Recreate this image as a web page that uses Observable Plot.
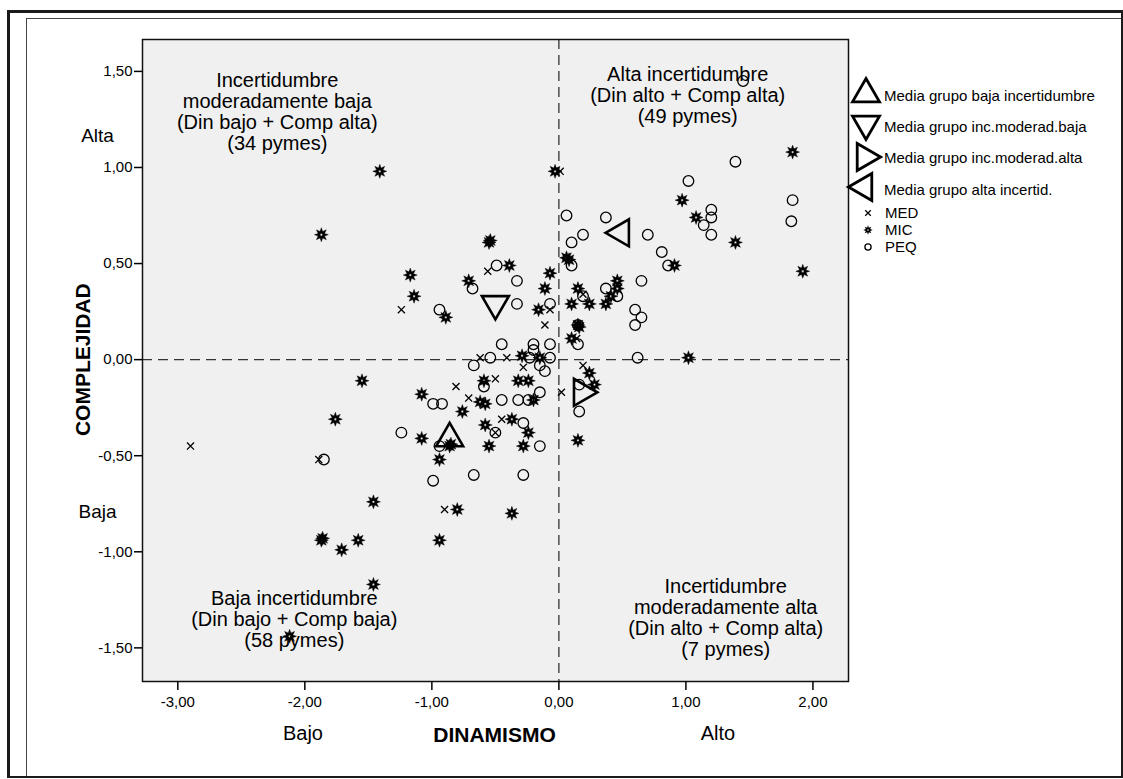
<!DOCTYPE html>
<html><head><meta charset="utf-8">
<script src="https://cdn.jsdelivr.net/npm/d3@7"></script>
<script src="https://cdn.jsdelivr.net/npm/@observablehq/plot@0.6"></script>
<style>
body{margin:0;background:#fff;font-family:"Liberation Sans",Arial,sans-serif;}
#wrap{position:relative;width:1123px;height:779px;overflow:hidden;background:#fff;}
#outer{position:absolute;left:7px;top:10px;width:1116px;height:768px;box-sizing:border-box;border:3px solid #1a1a1a;border-right-width:2px;border-bottom-width:2px;}
#inner{position:absolute;left:26px;top:18px;right:2px;bottom:3px;border-left:1px solid #444;border-top:1px solid #444;}
#chart{position:absolute;left:0;top:0;}
#legend{position:absolute;left:0;top:0;}
</style></head>
<body>
<div id="wrap"><div id="outer"></div><div id="inner"></div><div id="chart"></div><svg id="legend" width="1123" height="779"></svg></div>
<script>
// ---- data (DINAMISMO, COMPLEJIDAD) ----
const MED = [[-2.90,-0.45],[-1.89,-0.52],[-1.24,0.26],[-0.56,0.46],[-0.62,0.01],[-0.41,0.01],[-0.07,0.26],[-0.11,0.18],[0.19,0.34],[0.01,0.98],[-0.28,-0.04],[-0.50,-0.10],[-0.81,-0.14],[-0.71,-0.20],[-0.45,-0.31],[-0.50,-0.38],[-0.90,-0.78],[0.02,-0.17],[0.19,-0.03],[0.14,0.11]];
const MIC = [[-1.41,0.98],[-1.87,0.65],[-0.55,0.61],[-0.54,0.62],[-0.39,0.49],[-1.17,0.44],[-0.71,0.41],[-1.14,0.33],[-0.89,0.22],[-0.16,0.26],[-0.07,0.45],[-0.11,0.37],[-0.29,0.02],[-0.15,0.01],[-0.03,0.98],
 [0.06,0.53],[0.08,0.52],[0.15,0.37],[0.10,0.29],[0.24,0.29],[0.37,0.29],[0.41,0.33],[0.46,0.41],[0.46,0.37],[0.15,0.18],[0.16,0.17],[0.10,0.11],[0.91,0.49],[0.97,0.83],[1.08,0.74],[1.39,0.61],[1.84,1.08],[1.92,0.46],[1.02,0.01],
 [-1.55,-0.11],[-1.76,-0.31],[-1.08,-0.18],[-0.76,-0.27],[-1.08,-0.41],[-0.86,-0.45],[-0.85,-0.44],[-0.94,-0.52],[-0.80,-0.78],[-0.37,-0.80],[-1.46,-0.74],[-1.87,-0.94],[-1.86,-0.93],[-1.71,-0.99],[-1.58,-0.94],[-0.94,-0.94],[-1.46,-1.17],[-2.12,-1.44],[-0.59,-0.11],[-0.32,-0.11],[-0.24,-0.11],[-0.62,-0.22],[-0.58,-0.23],[-0.20,-0.21],[-0.37,-0.31],[-0.58,-0.34],[-0.24,-0.38],[-0.55,-0.45],[-0.28,-0.45],
 [0.24,-0.07],[0.28,-0.13],[0.15,-0.42]];
const PEQ = [[-0.49,0.49],[-0.68,0.37],[-0.33,0.41],[-0.94,0.26],[-0.33,0.29],[-0.45,0.08],[-0.20,0.08],[-0.20,0.05],[-0.54,0.01],[-0.23,0.01],[-0.07,0.01],[-0.07,0.08],[-0.07,0.29],
 [0.10,0.61],[0.19,0.65],[0.10,0.49],[0.06,0.75],[0.37,0.74],[0.19,0.33],[0.37,0.37],[0.46,0.33],[0.65,0.41],[0.60,0.26],[0.65,0.22],[0.60,0.18],[0.15,0.08],[0.70,0.65],[0.81,0.56],[0.86,0.49],[1.02,0.93],[1.39,1.03],[1.45,1.45],[1.84,0.83],[1.83,0.72],[1.20,0.78],[1.20,0.74],[1.14,0.70],[1.20,0.65],[0.62,0.01],[0.15,0.18],
 [-1.85,-0.52],[-1.24,-0.38],[-0.99,-0.23],[-0.92,-0.23],[-0.94,-0.45],[-0.99,-0.63],[-0.67,-0.60],[-0.28,-0.60],[-0.67,-0.03],[-0.15,-0.03],[-0.11,-0.06],[-0.15,-0.17],[-0.59,-0.14],[-0.45,-0.21],[-0.32,-0.21],[-0.24,-0.21],[-0.28,-0.33],[-0.50,-0.38],[-0.15,-0.45],
 [0.16,-0.13],[0.16,-0.27]];
const meanGroups = ["Media grupo baja incertidumbre","Media grupo inc.moderad.baja","Media grupo inc.moderad.alta","Media grupo alta incertid."];
const meanX = [-0.86,-0.50,0.18,0.49];
const meanY = [-0.41,0.29,-0.17,0.66];
const seriesNames = ["MED","MIC","PEQ"];
const xTicks = [-3,-2,-1,0,1,2];
const yTicks = [-1.5,-1,-0.5,0,0.5,1,1.5];
const quadrantLabels = [
  {t:"Incertidumbre\nmoderadamente baja\n(Din bajo + Comp alta)\n(34 pymes)", x:-2.217, y:1.292},
  {t:"Alta incertidumbre\n(Din alto + Comp alta)\n(49 pymes)", x:1.014, y:1.375},
  {t:"Baja incertidumbre\n(Din bajo + Comp baja)\n(58 pymes)", x:-2.083, y:-1.349},
  {t:"Incertidumbre\nmoderadamente alta\n(Din alto + Comp alta)\n(7 pymes)", x:1.313, y:-1.341}
];
const yLevelLabels = [{t:"Alta", y:1.165},{t:"Baja", y:-0.791}];
const xLevelLabels = [{t:"Bajo", x:-2.015},{t:"Alto", x:1.252}];

// ---- symbols ----
const star8 = {draw(ctx, size){
  const R = Math.sqrt(size/Math.PI), r = R*0.5;
  for (let i=0;i<16;i++){const a=i*Math.PI/8-Math.PI/2, rr=i%2?r:R; const x=rr*Math.cos(a), y=rr*Math.sin(a); i?ctx.lineTo(x,y):ctx.moveTo(x,y);}
  ctx.closePath();
  const h = R*0.17; ctx.moveTo(h,0); ctx.arc(0,0,h,0,2*Math.PI,true); ctx.closePath();
}};
function tri(angle){ return {draw(ctx,size){
  const y = -Math.sqrt(size/(3*Math.sqrt(3))), s3 = Math.sqrt(3);
  const pts = [[0,2*y],[-s3*y,-y],[s3*y,-y]]; const c=Math.cos(angle), s=Math.sin(angle);
  pts.forEach(([px,py],i)=>{const X=px*c-py*s, Y=px*s+py*c; i?ctx.lineTo(X,Y):ctx.moveTo(X,Y);});
  ctx.closePath();
}};}
const triSyms = [tri(0), tri(Math.PI), tri(Math.PI/2), tri(-Math.PI/2)];

const fmt = d => d.toFixed(2).replace(".", ",");
const toObj = arr => arr.map(([x,y]) => ({x,y}));
const means = meanGroups.map((g,i)=>({g, x:meanX[i], y:meanY[i], sym:triSyms[i]}));

const chart = Plot.plot({
  width: 1123, height: 779,
  marginLeft: 142, marginRight: 275, marginTop: 39, marginBottom: 98,
  style: {fontFamily: '"Liberation Sans", Arial, sans-serif', fontSize: "15px", background: "transparent", color: "#000"},
  x: {domain: [-3.278, 2.28]},
  y: {domain: [-1.675, 1.666]},
  marks: [
    Plot.frame({fill: "#f0f0f0", stroke: "none"}),
    Plot.ruleX([0], {stroke: "#333", strokeWidth: 1.3, strokeDasharray: "10,6"}),
    Plot.ruleY([0], {stroke: "#333", strokeWidth: 1.3, strokeDasharray: "10,6"}),
    Plot.frame({stroke: "#111", strokeWidth: 1.5}),
    Plot.axisX({ticks: xTicks, tickFormat: fmt, tickSize: 9, tickPadding: 6, fontSize: 15, label: null, strokeWidth: 1.5}),
    Plot.axisY({ticks: yTicks, tickFormat: fmt, tickSize: 8, tickPadding: 2, fontSize: 15, label: null, strokeWidth: 1.5}),
    Plot.dot(toObj(PEQ), {x: "x", y: "y", r: 5.3, stroke: "#000", strokeWidth: 1.3, fill: "none"}),
    Plot.dot(toObj(MED), {x: "x", y: "y", symbol: "times", r: 3.3, stroke: "#000", strokeWidth: 1.3}),
    Plot.dot(toObj(MIC), {x: "x", y: "y", symbol: star8, r: 7, fill: "#000", stroke: "#000", strokeWidth: 0.4}),
    ...means.map(m => Plot.dot([m], {x: "x", y: "y", symbol: m.sym, r: 10, stroke: "#000", strokeWidth: 2.6, fill: "none"})),
    Plot.text(quadrantLabels, {x: "x", y: "y", text: "t", fontSize: 20, lineHeight: 1.05, fill: "#000"}),
    Plot.text(yLevelLabels, {y: "y", text: "t", frameAnchor: "left", textAnchor: "middle", dx: -45, fontSize: 19, fill: "#000"}),
    Plot.text([{t: "COMPLEJIDAD", y: 0}], {y: "y", text: "t", frameAnchor: "left", textAnchor: "middle", lineAnchor: "middle", dx: -59, rotate: -90, fontSize: 21, fontWeight: "bold", fill: "#000"}),
    Plot.text(xLevelLabels, {x: "x", text: "t", frameAnchor: "bottom", lineAnchor: "middle", dy: 52, fontSize: 20, fill: "#000"}),
    Plot.text([{t: "DINAMISMO", x: -0.507}], {x: "x", text: "t", frameAnchor: "bottom", lineAnchor: "middle", dy: 54, fontSize: 21, fontWeight: "bold", fill: "#000"})
  ]
});
document.getElementById("chart").appendChild(chart);

// ---- legend ----
const lg = d3.select("#legend");
const legendItems = [
  {label: meanGroups[0], sym: triSyms[0], size: 315, sx: 866, sy: 94, ty: 96, tri: true},
  {label: meanGroups[1], sym: triSyms[1], size: 315, sx: 866, sy: 124, ty: 127, tri: true},
  {label: meanGroups[2], sym: triSyms[2], size: 315, sx: 865, sy: 157, ty: 158, tri: true},
  {label: meanGroups[3], sym: triSyms[3], size: 315, sx: 864, sy: 187, ty: 190, tri: true},
  {label: seriesNames[0], sym: d3.symbolTimes, size: 22, sx: 868, sy: 213, ty: 213, kind: "times"},
  {label: seriesNames[1], sym: star8, size: 70, sx: 868, sy: 230, ty: 230, kind: "star"},
  {label: seriesNames[2], sym: d3.symbolCircle, size: 30, sx: 868, sy: 247, ty: 247, kind: "circle"}
];
legendItems.forEach(it => {
  const p = lg.append("path").attr("d", d3.symbol(it.sym, it.size)()).attr("transform", `translate(${it.sx},${it.sy})`);
  if (it.tri) p.attr("fill", "none").attr("stroke", "#000").attr("stroke-width", 2.8);
  else if (it.kind === "star") p.attr("fill", "#000");
  else p.attr("fill", "none").attr("stroke", "#000").attr("stroke-width", 1.3);
  lg.append("text").attr("x", it.tri ? 884 : 885).attr("y", it.ty).attr("dy", "0.35em")
    .attr("font-family", '"Liberation Sans", Arial, sans-serif').attr("font-size", 15).attr("fill", "#000").text(it.label);
});
</script>
</body></html>
